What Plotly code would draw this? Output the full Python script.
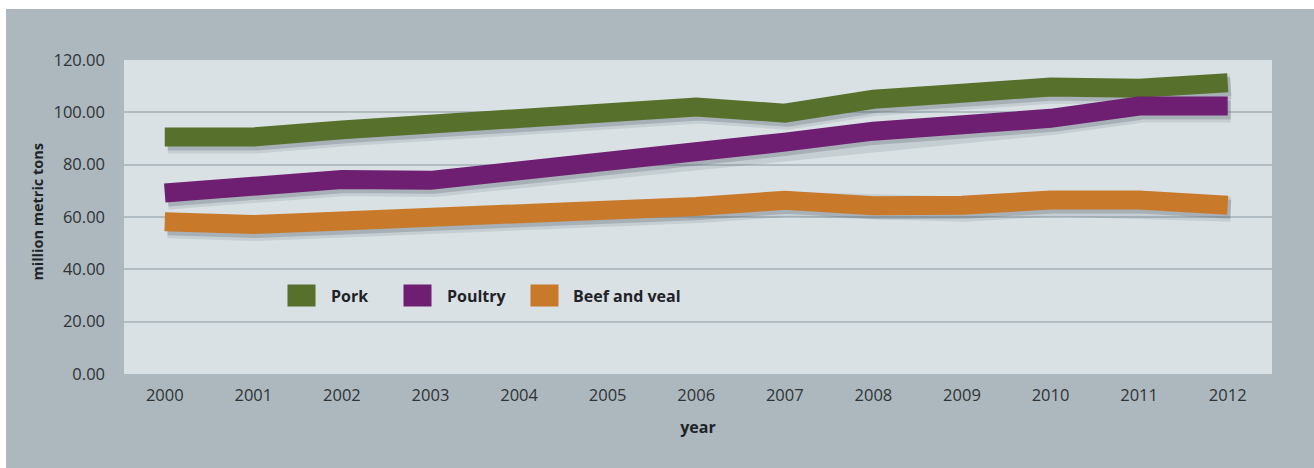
import plotly.graph_objects as go

years = [2000, 2001, 2002, 2003, 2004, 2005, 2006, 2007, 2008, 2009, 2010, 2011, 2012]
pork = [90.6, 90.6, 93.3, 95.8, 97.7, 99.8, 102.0, 99.7, 105.0, 107.3, 109.7, 109.2, 111.3]
poultry = [69.2, 72.0, 74.3, 74.0, 77.7, 79.9, 83.4, 88.6, 92.8, 94.5, 97.7, 102.4, 102.4]
beef = [58.2, 57.1, 58.5, 59.5, 60.8, 62.3, 64.0, 66.4, 64.3, 64.5, 66.5, 66.5, 64.5]
series_names = ["Pork", "Poultry", "Beef and veal"]
series_colors = ["#57702c", "#6e1f72", "#c87a2a"]
y_ticks = [0, 20, 40, 60, 80, 100, 120]

FONT = "Open Sans"
W, H = 1314, 468
L, R, T, B = 124, 42, 60, 94
plot_w = W - L - R
plot_h = H - T - B
x_range = [1999.54, 2012.5]
y_range = [0, 120]
px_per_x = plot_w / (x_range[1] - x_range[0])
px_per_y = plot_h / (y_range[1] - y_range[0])
sdx, sdy = 3, 4  # shadow offset in pixels

fig = go.Figure()
data = [pork, poultry, beef]

# invisible anchor trace on the base axes (keeps base axes active)
fig.add_trace(go.Scatter(x=years, y=pork, mode="lines", line=dict(width=0),
                         hoverinfo="skip", showlegend=False, opacity=0))
# soft shadows on a pixel-shifted overlay
for vals in data:
    fig.add_trace(go.Scatter(x=years, y=vals, mode="lines", xaxis="x2", yaxis="y2",
                             line=dict(color="rgba(60,72,82,0.12)", width=25),
                             hoverinfo="skip", showlegend=False))
    fig.add_trace(go.Scatter(x=years, y=vals, mode="lines", xaxis="x2", yaxis="y2",
                             line=dict(color="rgba(60,72,82,0.22)", width=19),
                             hoverinfo="skip", showlegend=False))
# main series on a true-range overlay drawn above
for name, vals, col in zip(series_names, data, series_colors):
    fig.add_trace(go.Scatter(x=years, y=vals, mode="lines", name=name,
                             xaxis="x3", yaxis="y3",
                             line=dict(color=col, width=19), showlegend=False))

shapes = [
    dict(type="rect", xref="paper", yref="paper", layer="below",
         x0=(6 - L) / plot_w, x1=(W - L) / plot_w,
         y0=-(H - T - plot_h) / plot_h, y1=(T + plot_h - 9) / plot_h,
         fillcolor="#acb8bd", line=dict(width=0)),
    dict(type="rect", xref="paper", yref="paper", layer="below",
         x0=0, x1=1, y0=0, y1=1, fillcolor="#d9e1e4", line=dict(width=0)),
]

# custom legend
annotations = []
box_x = [301.5, 417.5, 544.5]
text_x = [329, 445, 571]
ly = (T + plot_h - 295.5) / plot_h
for name, col, bx, tx in zip(series_names, series_colors, box_x, text_x):
    annotations.append(dict(xref="paper", yref="paper", x=(bx - L) / plot_w, y=ly,
                            text="", showarrow=False, width=27, height=21,
                            bgcolor=col, borderpad=0, xanchor="center", yanchor="middle"))
    annotations.append(dict(xref="paper", yref="paper", x=(tx - L) / plot_w, y=ly,
                            text="<b>%s</b>" % name, showarrow=False,
                            xanchor="left", yanchor="middle",
                            font=dict(family=FONT, size=16, color="#1f2328")))
# y-axis title
annotations.append(dict(xref="paper", yref="paper", x=(36.5 - L) / plot_w,
                        y=(T + plot_h - 212) / plot_h, textangle=-90,
                        text="<b>million metric tons</b>", showarrow=False,
                        xanchor="center", yanchor="middle",
                        font=dict(family=FONT, size=14.5, color="#1f2328")))

tickfont = dict(family=FONT, size=16.5, color="#2f3336")
fig.update_layout(
    width=W, height=H,
    margin=dict(l=L, r=R, t=T, b=B),
    paper_bgcolor="white",
    plot_bgcolor="rgba(0,0,0,0)",
    shapes=shapes,
    annotations=annotations,
    showlegend=False,
    xaxis=dict(range=x_range, tickvals=years, ticktext=[str(y) for y in years],
               showgrid=False, zeroline=False, showline=False,
               ticks="", ticklabelstandoff=9, tickfont=tickfont,
               title=dict(text="<b>year</b>", standoff=17,
                          font=dict(family=FONT, size=16, color="#1f2328"))),
    yaxis=dict(range=y_range, tickvals=y_ticks, tickformat=".2f",
               showgrid=True, gridcolor="#b1bdc2", gridwidth=1.5,
               zeroline=False, showline=False, ticks="", ticklabelstandoff=18,
               tickfont=tickfont),
    xaxis2=dict(overlaying="x",
                range=[x_range[0] - sdx / px_per_x, x_range[1] - sdx / px_per_x],
                visible=False),
    yaxis2=dict(overlaying="y",
                range=[y_range[0] + sdy / px_per_y, y_range[1] + sdy / px_per_y],
                visible=False),
    xaxis3=dict(overlaying="x", range=x_range, visible=False),
    yaxis3=dict(overlaying="y", range=y_range, visible=False),
)

fig.write_html("out.html")
